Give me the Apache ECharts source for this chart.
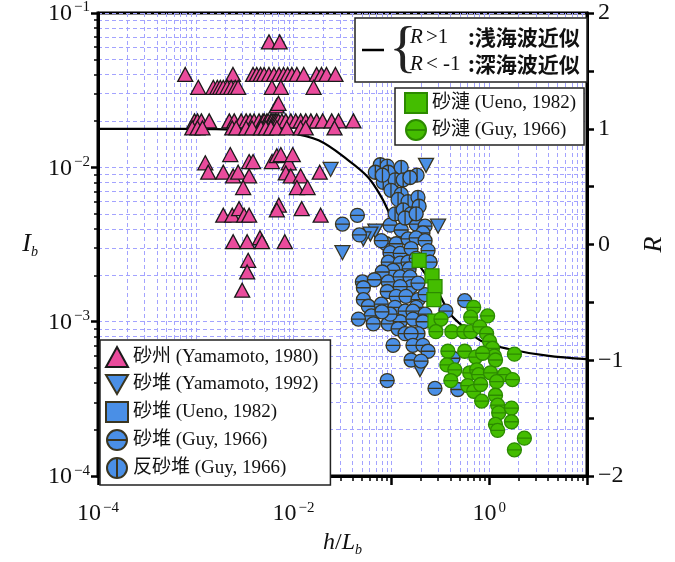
<!DOCTYPE html>
<html lang="ja">
<head>
<meta charset="UTF-8">
<title>砂床形態 I_b - h/L_b</title>
<script src="https://cdn.jsdelivr.net/npm/echarts@6/dist/echarts.min.js"></script>
<style>
  html, body { margin: 0; padding: 0; background: #fff; }
  #chart { width: 675px; height: 562px; }
</style>
</head>
<body>
<div id="chart"></div>
<script>
// ---- data: [h/L_b, I_b] ----
var sasuYamamoto1980 = [
  [5.6e-3,0.065],[7.2e-3,0.065],
  [7.8e-4,0.04],[2.4e-3,0.04],[3.85e-3,0.04],[4.2e-3,0.04],[4.6e-3,0.04],[5.0e-3,0.04],[5.6e-3,0.04],[6.3e-3,0.04],
  [7.1e-3,0.04],[7.9e-3,0.04],[8.7e-3,0.04],[9.6e-3,0.04],[1.08e-2,0.04],[1.27e-2,0.04],[1.72e-2,0.04],[1.93e-2,0.04],
  [2.17e-2,0.04],[2.68e-2,0.04],
  [1.06e-3,0.033],[1.51e-3,0.033],[1.66e-3,0.033],[1.78e-3,0.033],[1.91e-3,0.033],[2.1e-3,0.033],[2.3e-3,0.033],
  [2.53e-3,0.033],[2.71e-3,0.033],[6.0e-3,0.033],[7.4e-3,0.033],[1.6e-2,0.033],
  [6.7e-3,0.025],[7.0e-3,0.026],
  [9.7e-4,0.02],[1.04e-3,0.02],[1.14e-3,0.02],[1.37e-3,0.02],[2.2e-3,0.02],[2.47e-3,0.02],[2.91e-3,0.02],[3.27e-3,0.02],
  [3.59e-3,0.02],[3.94e-3,0.02],[4.43e-3,0.02],[4.86e-3,0.02],[5.0e-3,0.02],[5.33e-3,0.02],[5.5e-3,0.02],[5.86e-3,0.02],
  [6.0e-3,0.02],[6.29e-3,0.02],[6.5e-3,0.02],[6.74e-3,0.02],[7.0e-3,0.02],[7.58e-3,0.02],[8.32e-3,0.02],[9.36e-3,0.02],
  [1.05e-2,0.02],[1.18e-2,0.02],[1.33e-2,0.02],[1.5e-2,0.02],[1.72e-2,0.02],[1.98e-2,0.02],[2.45e-2,0.02],[2.88e-2,0.02],
  [4.09e-2,0.02],
  [9.2e-4,0.018],[1.04e-3,0.018],[1.17e-3,0.018],[2.36e-3,0.018],[2.59e-3,0.018],[3.27e-3,0.018],[3.76e-3,0.018],
  [4.64e-3,0.018],[5.2e-3,0.018],[5.86e-3,0.018],[6.74e-3,0.018],[8.52e-3,0.018],[1.18e-2,0.018],[1.33e-2,0.018],
  [2.62e-2,0.018],
  [2.25e-3,0.0121],[1.25e-3,0.0107],[3.51e-3,0.0109],[3.85e-3,0.0109],[6.0e-3,0.0109],[6.74e-3,0.0119],[7.4e-3,0.0121],
  [8.93e-3,0.0107],[9.8e-3,0.0121],[1.34e-3,0.0093],[1.91e-3,0.0093],[2.41e-3,0.0088],[2.71e-3,0.0093],[3.51e-3,0.0088],
  [8.32e-3,0.0092],[9.36e-3,0.0088],[1.18e-2,0.0088],[1.85e-2,0.0093],[3.05e-3,0.0074],[1.08e-2,0.0074],[1.39e-2,0.0074],
  [1.91e-3,0.0049],[2.36e-3,0.0049],[2.77e-3,0.0054],[3.12e-3,0.0049],[3.51e-3,0.0049],[7.06e-3,0.0057],[6.74e-3,0.0053],
  [1.21e-2,0.0054],[1.89e-2,0.0049],
  [2.41e-3,0.0033],[3.35e-3,0.0033],[4.53e-3,0.0035],[4.75e-3,0.0033],[8.13e-3,0.0033],
  [3.43e-3,0.0025],[3.35e-3,0.0021],[2.98e-3,0.0016]
];
var sataiYamamoto1992 = [
  [2.39e-2,0.0097],[3.16e-2,0.0028],[0.226,0.0103],[0.30,0.00416],[0.0685,0.00387],[0.061,0.0037],[0.0517,0.00344],[0.196,4.9e-4]
];
var sataiUeno1982 = [
  [0.10,0.003],[0.12,0.0025]
];
var sataiGuy1966 = [
  [0.0449,0.00489],[0.0316,0.00429],[0.0471,0.00365],[0.097,0.00422],[0.126,0.00393],[0.179,0.00429],[0.221,0.00416],
  [0.21,0.00376],[0.0885,0.0032],[0.112,0.0032],[0.148,0.00344],[0.179,0.00349],[0.221,0.00335],[0.237,0.00289],
  [0.097,0.0028],[0.123,0.00277],[0.159,0.00298],[0.0928,0.00243],[0.123,0.0024],[0.148,0.00243],[0.248,0.00243],
  [0.179,0.00257],[0.0788,0.00335],[0.104,0.00215],[0.152,0.0022],[0.0806,0.0021],
  [0.0505,0.00181],[0.0669,0.00187],[0.0517,0.00166],[0.0928,0.00181],[0.123,0.00195],[0.155,0.00195],[0.159,0.00169],
  [0.123,0.00169],[0.0906,0.00157],[0.112,0.00146],[0.0517,0.00139],[0.0581,0.00126],[0.0788,0.0013],[0.109,0.00124],
  [0.141,0.00146],[0.187,0.00139],[0.221,0.0015],[0.138,0.00117],[0.179,0.00124],[0.187,0.00178],[0.166,0.00117],
  [0.0623,0.00109],[0.046,0.00104],[0.0653,9.7e-4],[0.0928,9.7e-4],[0.123,1.0e-3],[0.166,0.00104],[0.221,0.00112],
  [0.21,1.0e-3],[0.097,0.00112],[0.117,9.0e-4],[0.08,0.00116],[0.138,8.37e-4],[0.187,8.37e-4],[0.159,8.37e-4],
  [0.104,7.03e-4],[0.166,7.03e-4],[0.21,7.03e-4],[0.237,6.44e-4],[0.159,5.65e-4],[0.201,5.56e-4],[0.0906,4.16e-4],
  [0.279,3.7e-4],[0.477,3.64e-4],[0.562,0.00137],[0.361,0.00117],[0.425,5.8e-4],[0.248,0.00243]
];
var hanSataiGuy1966 = [
  [0.077,0.0104],[0.0906,0.0102],[0.0685,0.0093],[0.093,0.0093],[0.126,0.01],[0.0825,0.008],[0.109,0.0083],[0.132,0.0083],
  [0.183,0.0089],[0.155,0.0086],[0.081,0.0089],[0.099,0.0071],[0.126,0.0067],[0.117,0.0062],[0.148,0.006],[0.187,0.0064],
  [0.192,0.0056],[0.109,0.005],[0.132,0.0053],[0.159,0.005],[0.138,0.0047],[0.179,0.005]
];
var sarenUeno1982 = [
  [0.192,0.0025],[0.26,0.00198],[0.279,0.00169],[0.272,0.00139],[0.279,0.00101]
];
var sarenGuy1966 = [
  [0.694,0.00124],[0.647,0.00107],[0.963,0.00109],[0.321,0.00104],[0.285,8.62e-4],[0.415,8.62e-4],[0.55,8.62e-4],
  [0.647,8.62e-4],[0.80,9.27e-4],[0.941,8.37e-4],[1.01,7.45e-4],[1.08,6.73e-4],[1.13,5.98e-4],[1.16,5.65e-4],
  [1.81,6.16e-4],[0.378,6.44e-4],[0.562,6.44e-4],[0.727,5.9e-4],[0.857,6.25e-4],[0.369,5.25e-4],[0.445,4.88e-4],
  [0.405,4.16e-4],[0.632,4.67e-4],[0.745,4.88e-4],[0.78,4.54e-4],[1.03,4.67e-4],[1.43,4.54e-4],[1.73,4.22e-4],
  [1.19,4.09e-4],[0.603,3.86e-4],[0.694,3.54e-4],[0.818,3.92e-4],[0.837,3.06e-4],[1.16,3.34e-4],[1.22,2.88e-4],
  [1.25,2.57e-4],[1.69,2.76e-4],[1.69,2.25e-4],[1.16,2.16e-4],[1.22,1.98e-4],[2.29,1.76e-4],[1.81,1.48e-4]
];
// R curve (right axis)
var curveHL = [1e-4, 6.8e-4, 3.5e-3, 8.9e-3, 1.8e-2, 3.6e-2, 5.8e-2, 7.9e-2, 9.8e-2, 0.133, 0.2, 0.3, 0.4, 0.6, 0.82, 1.54, 3.9, 10];
var curveR  = [1.0, 1.0, 0.99, 0.965, 0.90, 0.73, 0.58, 0.41, 0.25, 0.03, -0.20, -0.41, -0.60, -0.74, -0.83, -0.90, -0.96, -0.99];

var serif = "'Liberation Serif', 'DejaVu Serif', serif";
var mixed = "'Liberation Serif', 'Noto Sans CJK JP', serif";

var circH = 'path://M0,10A10,10,0,1,1,20,10A10,10,0,1,1,0,10ZM0,10L20,10';
var circV = 'path://M0,10A10,10,0,1,1,20,10A10,10,0,1,1,0,10ZM10,0L10,20';
var triDown = 'path://M0,0L20,0L10,17.3Z';

var pink = '#ea4b9c', blue = '#4a8fe6', green = '#44bd00';
var gridLine = { color: '#a3a3ff', type: [4, 3], width: 1 };

function powLabel(e) {
  return '{b|10}{s|' + (e < 0 ? '\u2212' + (-e) : e) + '}';
}
var powRich = {
  b: { fontFamily: serif, fontSize: 24, color: '#111', verticalAlign: 'bottom' },
  s: { fontFamily: serif, fontSize: 15, color: '#111', verticalAlign: 'bottom', padding: [0, 0, 11, 2] }
};

// R legend text styles
var rLegendRich = {
  i: { fontFamily: serif, fontStyle: 'italic', fontSize: 21, fill: '#111', width: 16, align: 'left' },
  n: { fontFamily: serif, fontSize: 21, fill: '#111', width: 42, align: 'left' },
  c: { fontFamily: "'Noto Sans CJK JP'", fontWeight: 'bold', fontSize: 21, fill: '#111' }
};

var curve = curveHL.map(function (v, i) { return [v, curveR[i]]; });

var chart = echarts.init(document.getElementById('chart'));
chart.setOption({
  animation: false,
  grid: { left: 98, right: 85, top: 12, bottom: 77, show: true, borderColor: '#000', borderWidth: 3, backgroundColor: 'transparent' },
  xAxis: {
    type: 'log', logBase: 10, min: 1e-4, max: 10,
    name: '{i|h}{n|/}{i|L}{s|b}', nameLocation: 'middle', nameGap: 52,
    nameTextStyle: { rich: {
      i: { fontFamily: serif, fontStyle: 'italic', fontSize: 24, color: '#111' },
      n: { fontFamily: serif, fontSize: 24, color: '#111' },
      s: { fontFamily: serif, fontStyle: 'italic', fontSize: 14, color: '#111', verticalAlign: 'top', padding: [14, 0, 0, 0] }
    } },
    axisLine: { onZero: false, lineStyle: { color: '#000', width: 3 } },
    axisTick: { length: 9, lineStyle: { color: '#000', width: 2.5 } },
    minorTick: { show: true, splitNumber: 9, length: 5, lineStyle: { color: '#000', width: 1.5 } },
    splitLine: { show: true, lineStyle: gridLine },
    minorSplitLine: { show: true, lineStyle: gridLine },
    axisLabel: {
      margin: 24,
      formatter: function (v) {
        var e = Math.round(Math.log10(v));
        return e % 2 === 0 ? powLabel(e) : '';
      },
      rich: powRich
    }
  },
  yAxis: [{
    type: 'log', logBase: 10, min: 1e-4, max: 0.1,
    name: '{i|I}{s|b}', nameLocation: 'middle', nameGap: 60, nameRotate: 0,
    nameTextStyle: { rich: {
      i: { fontFamily: serif, fontStyle: 'italic', fontSize: 26, color: '#111' },
      s: { fontFamily: serif, fontStyle: 'italic', fontSize: 14, color: '#111', verticalAlign: 'top', padding: [16, 0, 0, 0] }
    } },
    axisLine: { lineStyle: { color: '#000', width: 3 } },
    axisTick: { length: 7, lineStyle: { color: '#000', width: 2.5 } },
    minorTick: { show: true, splitNumber: 9, length: 4, lineStyle: { color: '#000', width: 1.5 } },
    splitLine: { show: true, lineStyle: gridLine },
    minorSplitLine: { show: true, lineStyle: gridLine },
    axisLabel: {
      margin: 8,
      formatter: function (v) { return powLabel(Math.round(Math.log10(v))); },
      rich: powRich
    }
  }, {
    type: 'value', min: -2, max: 2, interval: 0.5, position: 'right',
    name: 'R', nameLocation: 'middle', nameGap: 54, nameRotate: 90,
    nameTextStyle: { fontFamily: serif, fontStyle: 'italic', fontSize: 26, color: '#111' },
    axisLine: { show: true, onZero: false, lineStyle: { color: '#000', width: 3 } },
    axisTick: { length: 7, lineStyle: { color: '#000', width: 2.5 } },
    splitLine: { show: false },
    axisLabel: {
      margin: 11, fontFamily: serif, fontSize: 24, color: '#111',
      formatter: function (v) {
        if (v % 1 !== 0) return '';
        return v < 0 ? '\u2212' + (-v) : String(v);
      }
    }
  }],
  legend: [{
    orient: 'vertical', left: 100, top: 340,
    data: ['砂州 (Yamamoto, 1980)', '砂堆 (Yamamoto, 1992)', '砂堆 (Ueno, 1982)', '砂堆 (Guy, 1966)', '反砂堆 (Guy, 1966)'],
    backgroundColor: '#fff', borderColor: '#222', borderWidth: 1.5, borderRadius: 0,
    padding: [6, 12, 6, 5], itemGap: 6, itemWidth: 22, itemHeight: 20,
    textStyle: { fontFamily: mixed, fontSize: 19, color: '#111' }
  }, {
    orient: 'vertical', left: 395, top: 88,
    data: ['砂漣 (Ueno, 1982)', '砂漣 (Guy, 1966)'],
    backgroundColor: '#fff', borderColor: '#222', borderWidth: 1.5, borderRadius: 0,
    padding: [4, 8, 4, 9], itemGap: 5, itemWidth: 22, itemHeight: 20,
    textStyle: { fontFamily: mixed, fontSize: 19, color: '#111' }
  }],
  graphic: [
    { type: 'rect', z: 100, shape: { x: 355, y: 18, width: 232, height: 64 },
      style: { fill: '#fff', stroke: '#222', lineWidth: 1.5 } },
    { type: 'line', z: 101, shape: { x1: 362, y1: 50, x2: 384, y2: 50 },
      style: { stroke: '#000', lineWidth: 2.5 } },
    { type: 'text', z: 101, x: 389, y: 51,
      style: { text: '{', fontFamily: serif, fontSize: 58, fill: '#222', verticalAlign: 'middle', textAlign: 'left' } },
    { type: 'text', z: 101, x: 410, y: 37,
      style: { text: '{i|R}{n|>1}{c|:浅海波近似}', verticalAlign: 'middle', rich: rLegendRich } },
    { type: 'text', z: 101, x: 410, y: 64,
      style: { text: '{i|R}{n|< -1}{c|:深海波近似}', verticalAlign: 'middle', rich: rLegendRich } }
  ],
  series: [{
    name: 'R', type: 'line', yAxisIndex: 1, data: curve, smooth: 0.35, showSymbol: false, z: 1,
    lineStyle: { color: '#000', width: 2.2 }
  }, {
    name: '砂州 (Yamamoto, 1980)', type: 'scatter', data: sasuYamamoto1980, z: 2,
    symbol: 'triangle', symbolSize: [15, 14],
    itemStyle: { color: pink, borderColor: '#1a1a1a', borderWidth: 1.3, opacity: 1 }
  }, {
    name: '砂堆 (Yamamoto, 1992)', type: 'scatter', data: sataiYamamoto1992, z: 2,
    symbol: triDown, symbolSize: [15, 14],
    itemStyle: { color: blue, borderColor: '#3a3520', borderWidth: 1.3, opacity: 1 }
  }, {
    name: '砂堆 (Ueno, 1982)', type: 'scatter', data: sataiUeno1982, z: 2,
    symbol: 'rect', symbolSize: 13,
    itemStyle: { color: blue, borderColor: '#3a3520', borderWidth: 1.3, opacity: 1 }
  }, {
    name: '砂堆 (Guy, 1966)', type: 'scatter', data: sataiGuy1966, z: 2,
    symbol: circH, symbolSize: 14,
    itemStyle: { color: blue, borderColor: '#3a3520', borderWidth: 1.3, opacity: 1 }
  }, {
    name: '反砂堆 (Guy, 1966)', type: 'scatter', data: hanSataiGuy1966, z: 2,
    symbol: circV, symbolSize: 14,
    itemStyle: { color: blue, borderColor: '#3a3520', borderWidth: 1.3, opacity: 1 }
  }, {
    name: '砂漣 (Ueno, 1982)', type: 'scatter', data: sarenUeno1982, z: 2,
    symbol: 'rect', symbolSize: 14,
    itemStyle: { color: green, borderColor: '#2c8a00', borderWidth: 1.3, opacity: 1 }
  }, {
    name: '砂漣 (Guy, 1966)', type: 'scatter', data: sarenGuy1966, z: 2,
    symbol: circH, symbolSize: 14,
    itemStyle: { color: green, borderColor: '#2c8a00', borderWidth: 1.3, opacity: 1 }
  }]
});
</script>
</body>
</html>
